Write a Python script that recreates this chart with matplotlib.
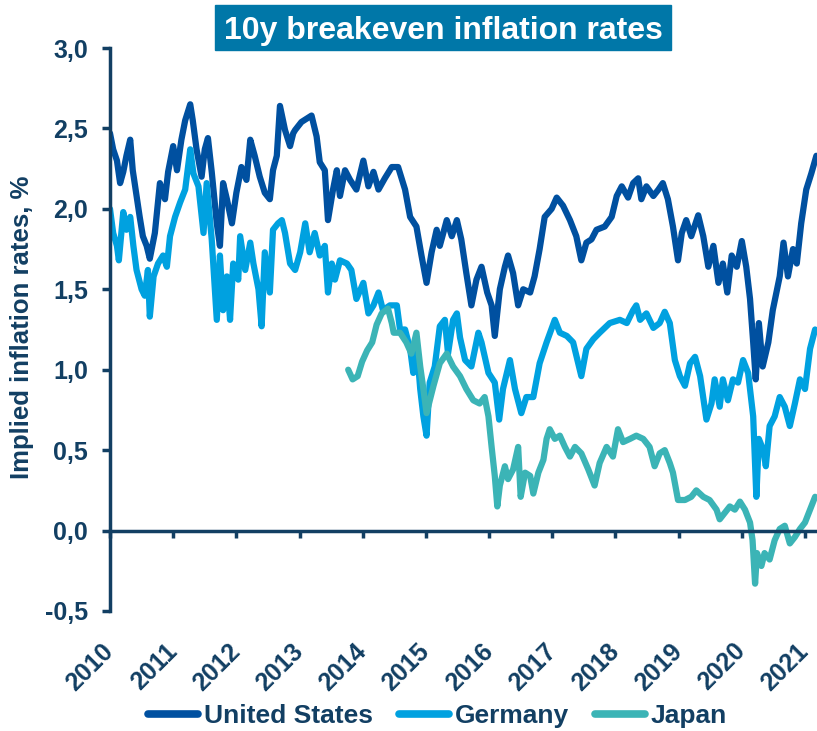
import matplotlib
matplotlib.use("Agg")
import matplotlib.pyplot as plt
from matplotlib.patches import Rectangle

plt.rcParams["font.family"] = ["Liberation Sans", "DejaVu Sans"]
plt.rcParams["font.weight"] = "bold"

# data (decimal year, %)
us_t = [2010.00, 2010.05, 2010.11, 2010.16, 2010.21, 2010.26, 2010.32, 2010.36, 2010.42, 2010.47,
        2010.52, 2010.58, 2010.63, 2010.71, 2010.79, 2010.87, 2010.92, 2011.00, 2011.06, 2011.13,
        2011.19, 2011.27, 2011.31, 2011.37, 2011.45, 2011.50, 2011.55, 2011.61, 2011.69, 2011.74,
        2011.79, 2011.85, 2011.93, 2012.00, 2012.08, 2012.16, 2012.22, 2012.29, 2012.37, 2012.45,
        2012.53, 2012.58, 2012.64, 2012.69, 2012.77, 2012.85, 2012.90, 2012.93, 2013.03, 2013.19,
        2013.27, 2013.32, 2013.40, 2013.45, 2013.53, 2013.59, 2013.64, 2013.72, 2013.80, 2013.90,
        2014.01, 2014.09, 2014.17, 2014.25, 2014.35, 2014.46, 2014.56, 2014.67, 2014.75, 2014.85,
        2014.93, 2015.01, 2015.09, 2015.17, 2015.22, 2015.33, 2015.41, 2015.49, 2015.56, 2015.64,
        2015.72, 2015.80, 2015.88, 2015.97, 2016.04, 2016.09, 2016.17, 2016.25, 2016.30, 2016.38,
        2016.46, 2016.54, 2016.65, 2016.72, 2016.80, 2016.88, 2016.99, 2017.07, 2017.17, 2017.28,
        2017.38, 2017.46, 2017.54, 2017.62, 2017.70, 2017.83, 2017.94, 2018.02, 2018.10, 2018.20,
        2018.28, 2018.36, 2018.41, 2018.49, 2018.60, 2018.68, 2018.75, 2018.83, 2018.91, 2018.99,
        2019.05, 2019.12, 2019.20, 2019.31, 2019.39, 2019.47, 2019.55, 2019.63, 2019.70, 2019.77,
        2019.84, 2019.92, 2020.00, 2020.07, 2020.13, 2020.18, 2020.22, 2020.27, 2020.33, 2020.42,
        2020.49, 2020.60, 2020.66, 2020.73, 2020.81, 2020.87, 2020.94, 2021.02, 2021.10, 2021.18]
us_v = [2.47, 2.37, 2.30, 2.16, 2.23, 2.33, 2.43, 2.24, 2.08, 1.95,
        1.83, 1.77, 1.69, 1.85, 2.16, 2.06, 2.23, 2.39, 2.24, 2.43,
        2.55, 2.65, 2.55, 2.37, 2.20, 2.37, 2.44, 2.23, 1.91, 1.77,
        2.16, 2.06, 1.91, 2.10, 2.26, 2.18, 2.43, 2.33, 2.20, 2.10,
        2.06, 2.24, 2.33, 2.64, 2.49, 2.39, 2.47, 2.49, 2.54, 2.58,
        2.45, 2.29, 2.24, 1.93, 2.12, 2.24, 2.08, 2.24, 2.18, 2.12,
        2.30, 2.14, 2.23, 2.12, 2.19, 2.26, 2.26, 2.12, 1.95, 1.89,
        1.71, 1.54, 1.73, 1.87, 1.77, 1.93, 1.83, 1.93, 1.81, 1.60,
        1.40, 1.56, 1.64, 1.48, 1.40, 1.21, 1.50, 1.64, 1.71, 1.60,
        1.40, 1.50, 1.48, 1.58, 1.75, 1.95, 2.00, 2.07, 2.02, 1.93,
        1.83, 1.68, 1.79, 1.81, 1.87, 1.89, 1.95, 2.08, 2.14, 2.07,
        2.16, 2.19, 2.06, 2.14, 2.08, 2.12, 2.16, 2.06, 1.89, 1.68,
        1.85, 1.93, 1.83, 1.96, 1.83, 1.64, 1.77, 1.54, 1.66, 1.48,
        1.71, 1.64, 1.80, 1.64, 1.44, 1.17, 0.94, 1.29, 1.02, 1.17,
        1.37, 1.58, 1.79, 1.58, 1.75, 1.66, 1.91, 2.12, 2.22, 2.33]

de_t = [2010.00, 2010.05, 2010.11, 2010.14, 2010.21, 2010.26, 2010.32, 2010.37, 2010.42, 2010.50,
        2010.55, 2010.60, 2010.63, 2010.69, 2010.76, 2010.84, 2010.90, 2010.95, 2011.03, 2011.11,
        2011.19, 2011.27, 2011.32, 2011.40, 2011.48, 2011.53, 2011.61, 2011.69, 2011.74, 2011.79,
        2011.85, 2011.90, 2011.95, 2012.03, 2012.06, 2012.14, 2012.22, 2012.27, 2012.35, 2012.40,
        2012.45, 2012.53, 2012.58, 2012.66, 2012.72, 2012.77, 2012.85, 2012.93, 2013.01, 2013.09,
        2013.16, 2013.24, 2013.32, 2013.40, 2013.45, 2013.51, 2013.56, 2013.64, 2013.75, 2013.82,
        2013.90, 2014.01, 2014.09, 2014.17, 2014.25, 2014.32, 2014.43, 2014.54, 2014.59, 2014.67,
        2014.75, 2014.80, 2014.85, 2014.91, 2014.96, 2015.01, 2015.06, 2015.14, 2015.22, 2015.30,
        2015.35, 2015.43, 2015.49, 2015.54, 2015.62, 2015.72, 2015.83, 2015.88, 2015.99, 2016.09,
        2016.16, 2016.22, 2016.33, 2016.41, 2016.51, 2016.59, 2016.70, 2016.80, 2016.91, 2017.04,
        2017.12, 2017.23, 2017.33, 2017.46, 2017.54, 2017.65, 2017.75, 2017.91, 2018.07, 2018.18,
        2018.28, 2018.33, 2018.39, 2018.49, 2018.60, 2018.70, 2018.78, 2018.86, 2018.94, 2019.02,
        2019.10, 2019.18, 2019.26, 2019.34, 2019.44, 2019.52, 2019.57, 2019.65, 2019.70, 2019.78,
        2019.86, 2019.94, 2020.02, 2020.10, 2020.18, 2020.23, 2020.27, 2020.34, 2020.38, 2020.44,
        2020.52, 2020.60, 2020.68, 2020.76, 2020.84, 2020.92, 2021.00, 2021.08, 2021.16]
de_v = [2.00, 1.85, 1.77, 1.68, 1.98, 1.87, 1.95, 1.77, 1.62, 1.50,
        1.46, 1.62, 1.33, 1.58, 1.66, 1.71, 1.64, 1.83, 1.95, 2.04,
        2.12, 2.37, 2.22, 2.14, 1.85, 2.16, 1.81, 1.31, 1.71, 1.37,
        1.58, 1.31, 1.66, 1.56, 1.83, 1.62, 1.79, 1.66, 1.50, 1.27,
        1.73, 1.48, 1.87, 1.91, 1.93, 1.85, 1.66, 1.62, 1.73, 1.91,
        1.73, 1.85, 1.71, 1.77, 1.48, 1.66, 1.56, 1.68, 1.66, 1.62,
        1.44, 1.54, 1.35, 1.40, 1.48, 1.37, 1.40, 1.40, 1.25, 1.25,
        1.13, 0.98, 1.17, 0.88, 0.71, 0.59, 0.92, 1.02, 1.27, 1.31,
        1.10, 1.31, 1.35, 1.20, 1.06, 1.02, 1.23, 1.17, 0.98, 0.92,
        0.69, 0.88, 1.06, 0.88, 0.73, 0.83, 0.83, 1.04, 1.17, 1.31,
        1.23, 1.21, 1.17, 0.96, 1.13, 1.19, 1.23, 1.29, 1.31, 1.29,
        1.37, 1.40, 1.31, 1.35, 1.26, 1.29, 1.36, 1.29, 1.06, 0.96,
        0.90, 1.04, 1.08, 0.96, 0.69, 0.79, 0.94, 0.77, 0.94, 0.81,
        0.94, 0.92, 1.06, 0.98, 0.71, 0.21, 0.57, 0.50, 0.40, 0.65,
        0.71, 0.83, 0.77, 0.65, 0.79, 0.94, 0.88, 1.13, 1.25]

jp_t = [2013.77, 2013.84, 2013.92, 2013.99, 2014.07, 2014.15, 2014.22, 2014.30, 2014.40, 2014.46,
        2014.49, 2014.59, 2014.69, 2014.77, 2014.85, 2014.91, 2014.96, 2015.01, 2015.12, 2015.22,
        2015.33, 2015.43, 2015.54, 2015.64, 2015.75, 2015.85, 2015.93, 2015.99, 2016.04, 2016.09,
        2016.13, 2016.17, 2016.25, 2016.30, 2016.38, 2016.46, 2016.50, 2016.57, 2016.65, 2016.70,
        2016.78, 2016.86, 2016.91, 2016.96, 2017.04, 2017.12, 2017.20, 2017.28, 2017.36, 2017.46,
        2017.57, 2017.67, 2017.75, 2017.86, 2017.96, 2018.04, 2018.12, 2018.23, 2018.33, 2018.44,
        2018.54, 2018.62, 2018.70, 2018.78, 2018.86, 2018.91, 2018.99, 2019.10, 2019.20, 2019.28,
        2019.39, 2019.49, 2019.60, 2019.65, 2019.73, 2019.81, 2019.89, 2019.97, 2020.05, 2020.13,
        2020.17, 2020.21, 2020.24, 2020.31, 2020.36, 2020.44, 2020.52, 2020.60, 2020.68, 2020.76,
        2020.84, 2020.92, 2021.00, 2021.08, 2021.16]
jp_v = [1.00, 0.94, 0.96, 1.05, 1.12, 1.17, 1.28, 1.35, 1.38, 1.29,
        1.23, 1.23, 1.17, 1.10, 1.23, 1.02, 0.88, 0.73, 0.90, 1.04,
        1.10, 1.02, 0.96, 0.88, 0.81, 0.79, 0.83, 0.71, 0.52, 0.34,
        0.15, 0.28, 0.40, 0.32, 0.38, 0.52, 0.21, 0.36, 0.34, 0.23,
        0.36, 0.44, 0.57, 0.63, 0.57, 0.59, 0.52, 0.46, 0.52, 0.48,
        0.38, 0.28, 0.42, 0.52, 0.46, 0.63, 0.55, 0.57, 0.59, 0.57,
        0.52, 0.40, 0.48, 0.50, 0.42, 0.36, 0.19, 0.19, 0.21, 0.25,
        0.21, 0.19, 0.13, 0.07, 0.11, 0.15, 0.13, 0.18, 0.13, 0.05,
        -0.06, -0.33, -0.14, -0.22, -0.14, -0.18, -0.06, 0.01, 0.03, -0.08,
        -0.04, 0.01, 0.05, 0.13, 0.21]

years = list(range(2010, 2022))
y_ticks = [-0.5, 0.0, 0.5, 1.0, 1.5, 2.0, 2.5, 3.0]
y_tick_labels = ["-0,5", "0,0", "0,5", "1,0", "1,5", "2,0", "2,5", "3,0"]

navy = "#123f63"

fig = plt.figure(figsize=(8.17, 7.31), dpi=100)
ax = fig.add_axes([110 / 817, 1 - 611 / 731, 1 - 110 / 817, 563 / 731])

ax.plot(us_t, us_v, color="#0050a0", lw=4.5, label="United States", solid_capstyle="round")
ax.plot(de_t, de_v, color="#00a1e0", lw=4.5, label="Germany", solid_capstyle="round")
ax.plot(jp_t, jp_v, color="#3bb4b6", lw=4.5, label="Japan", solid_capstyle="round")

ax.set_xlim(2010, 2021.19)
ax.set_ylim(-0.5, 3.0)

for s in ["top", "right"]:
    ax.spines[s].set_visible(False)
ax.spines["bottom"].set_position(("data", 0))
for s in ["left", "bottom"]:
    ax.spines[s].set_color(navy)
    ax.spines[s].set_linewidth(2.5)

ax.set_yticks(y_ticks)
ax.set_yticklabels(y_tick_labels)
ax.tick_params(axis="y", direction="out", length=6, width=2.5, color=navy,
               labelcolor=navy, labelsize=18, pad=10)

ax.set_xticks(years)
ax.set_xticklabels([str(y) for y in years], rotation=45, ha="right", va="center",
                   rotation_mode="anchor")
ax.tick_params(axis="x", direction="out", length=5, width=2.5, color=navy,
               labelcolor=navy, labelsize=18, pad=79)

ax.set_ylabel("Implied inflation rates, %", color=navy, fontsize=18.5, fontweight="bold")
ax.yaxis.set_label_coords(-0.108, 0.503)

# title box
fig.patches.append(Rectangle((215 / 817, 1 - 50 / 731), 456 / 817, 45 / 731,
                             transform=fig.transFigure, color="#0077a8", zorder=0))
fig.text(443 / 817, 1 - 39 / 731, "10y breakeven inflation rates", color="white",
         fontsize=23, fontweight="bold", ha="center", va="baseline")

leg = fig.legend(loc="center", bbox_to_anchor=(0.5355, 1 - 716 / 731), ncol=3,
                 frameon=False, fontsize=19, handlelength=1.9, handletextpad=0.2,
                 columnspacing=1.0)
for t in leg.get_texts():
    t.set_color(navy)
for h in leg.get_lines():
    h.set_linewidth(5.5)

fig.savefig("out.png", dpi=100)
